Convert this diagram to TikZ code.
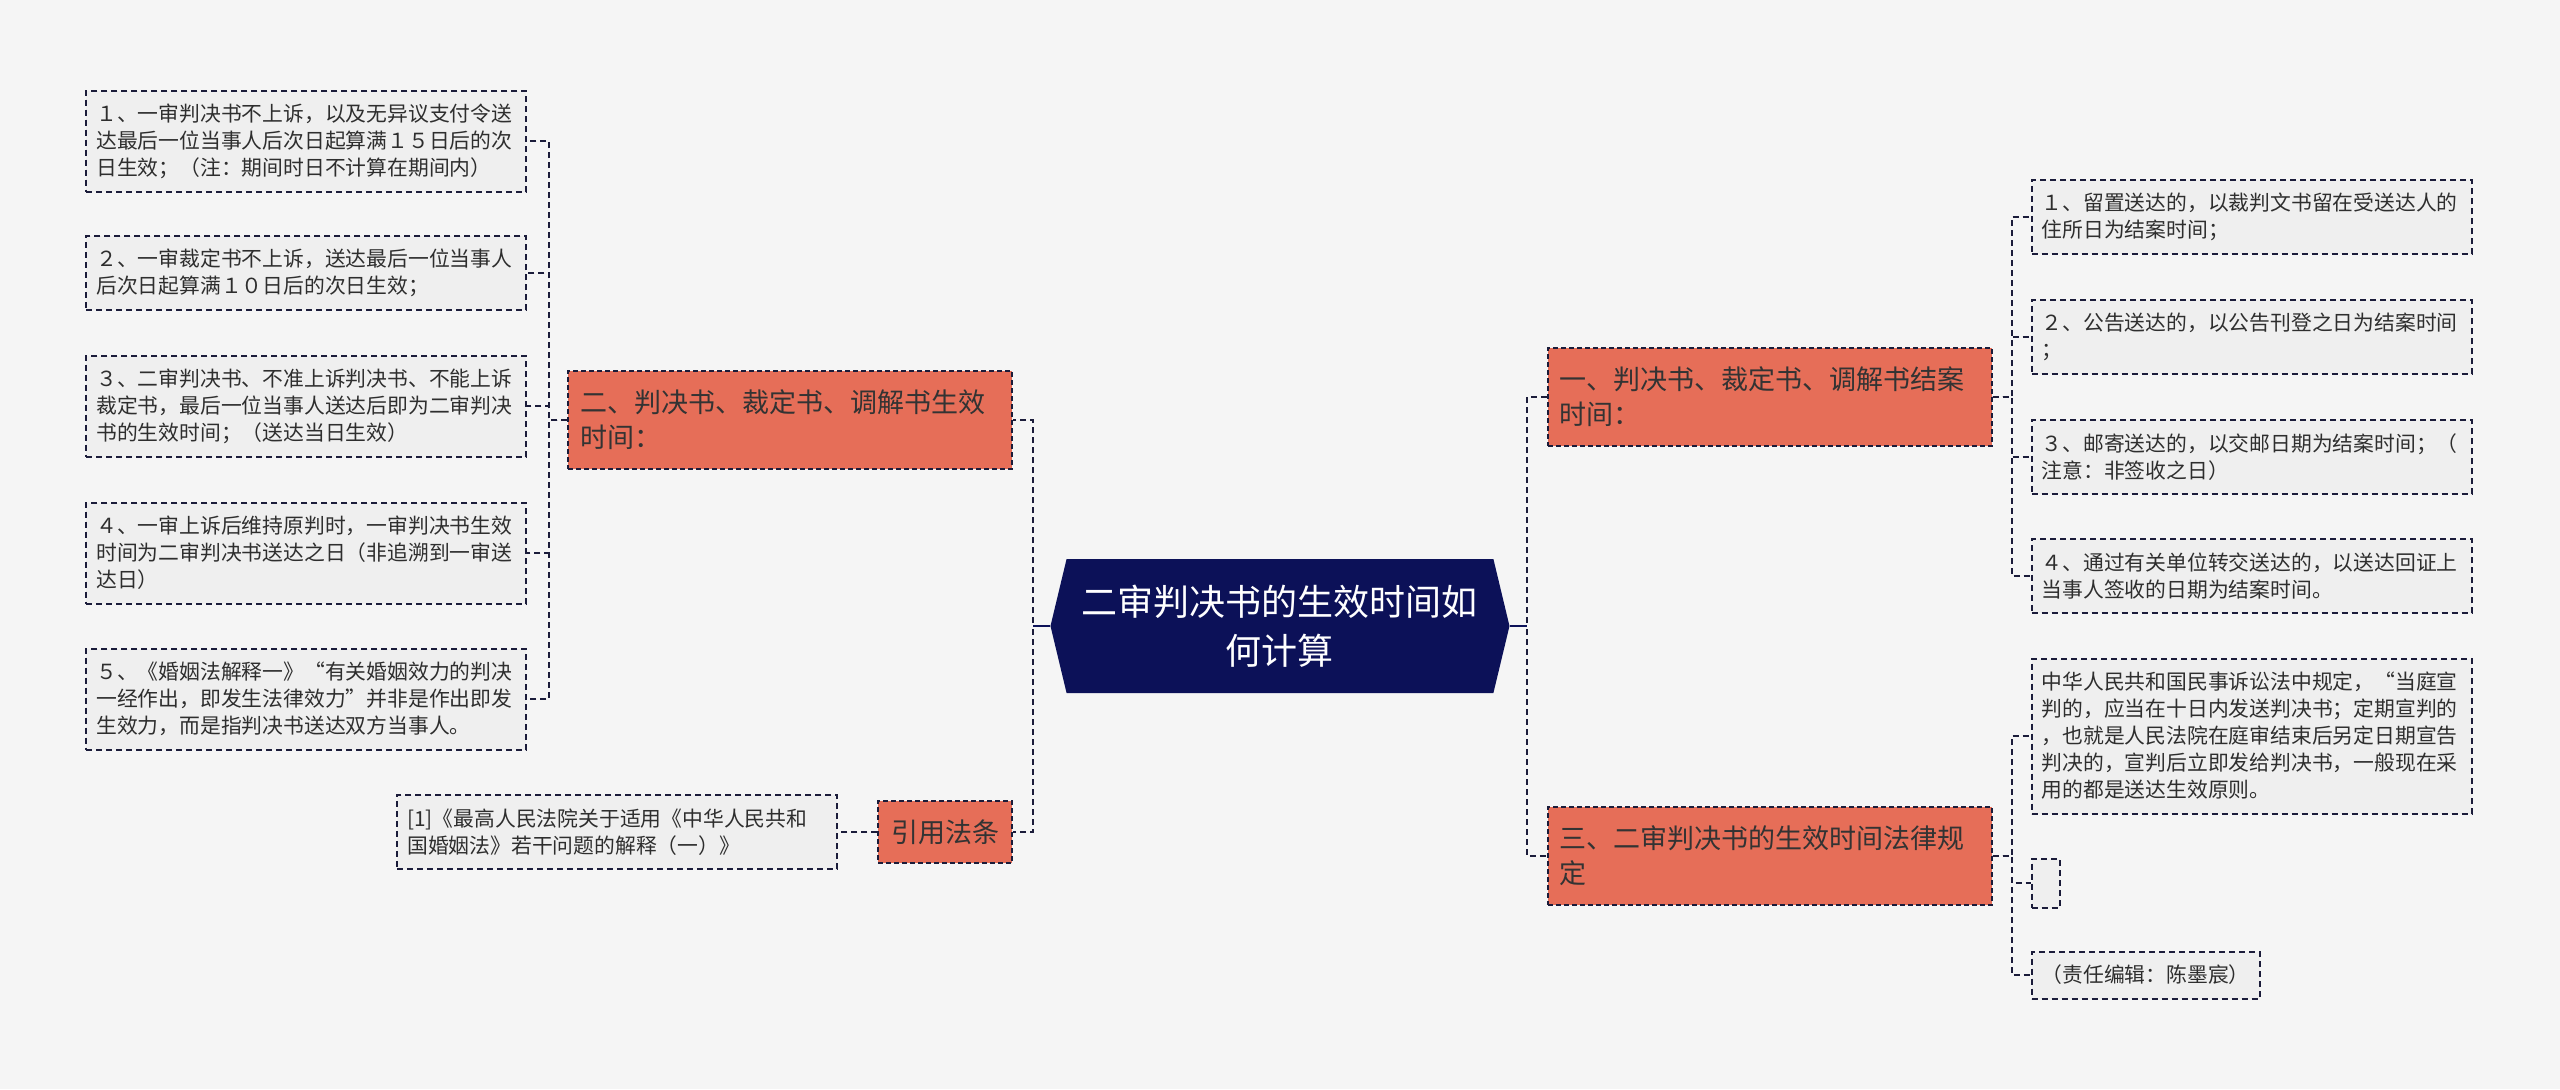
\documentclass[tikz,border=0pt]{standalone}
\usepackage{fontspec}
\setmainfont{Noto Sans CJK SC}
\usepackage{xcolor}
\usepackage{tikz}
\usetikzlibrary{shapes.symbols, positioning, calc, backgrounds}

\definecolor{pagebg}{HTML}{F5F5F5}
\definecolor{leafbg}{HTML}{EFEFEF}
\definecolor{secbg}{HTML}{E66E58}
\definecolor{rootbg}{HTML}{0C1158}
\definecolor{linecol}{HTML}{1B1C3A}
\definecolor{txtcol}{HTML}{2E2E2E}

\begin{document}
\begin{tikzpicture}[
    rootbox/.style={signal, signal to=west and east, signal pointer angle=153, fill=rootbg, text=white, minimum width=229.5pt, minimum height=67pt, align=center, inner sep=0pt, font=\fontsize{18pt}{24.5pt}\selectfont},
    secbox/.style={rectangle, draw=linecol, fill=secbg, dash pattern=on 2.5pt off 1.5pt, line width=0.9pt, text=black!80, minimum height=49pt, text width=210pt, inner xsep=6pt, inner ysep=0pt, align=left, font=\fontsize{13.5pt}{17.5pt}\selectfont},
    citebox/.style={rectangle, draw=linecol, fill=secbg, dash pattern=on 2.5pt off 1.5pt, line width=0.9pt, text=black!80, minimum height=31pt, minimum width=67pt, inner sep=0pt, font=\fontsize{13.5pt}{17.5pt}\selectfont},
    leaf/.style={rectangle, draw=linecol, fill=leafbg, dash pattern=on 3pt off 2pt, line width=1pt, text=txtcol, minimum height=#1, text width=210pt, inner xsep=5pt, inner ysep=0pt, align=left, font=\fontsize{10.4pt}{13.5pt}\selectfont},
    leaf/.default={37pt},
    link/.style={draw=linecol, line width=1pt, dash pattern=on 3pt off 2pt},
    stub/.style={draw=rootbg, line width=1.4pt},
]
\useasboundingbox (-640pt,313pt) rectangle (640pt,-231.5pt);

% ── Root ──
\node[rootbox] (root) at (0,0) {二审判决书的生效时间如\\何计算};

% ── Sections ──
\node[secbox, left=18.5pt of root, yshift=103pt] (sec_two) {二、判决书、裁定书、调解书生效\\时间：};
\node[citebox, left=18.5pt of root, yshift=-103pt] (cite_law) {引用法条};
\node[secbox, right=18.5pt of root, yshift=114.5pt] (sec_one) {一、判决书、裁定书、调解书结案\\时间：};
\node[secbox, right=18.5pt of root, yshift=-115pt] (sec_three) {三、二审判决书的生效时间法律规\\定};

% ── Left leaves ──
\node[leaf=50.5pt, left=20pt of sec_two, yshift=139.5pt] (l_one) {１、一审判决书不上诉，以及无异议支付令送\\达最后一位当事人后次日起算满１５日后的次\\日生效；（注：期间时日不计算在期间内）};
\node[leaf, left=20pt of sec_two, yshift=73.5pt] (l_two) {２、一审裁定书不上诉，送达最后一位当事人\\后次日起算满１０日后的次日生效；};
\node[leaf=50.5pt, left=20pt of sec_two, yshift=7pt] (l_three) {３、二审判决书、不准上诉判决书、不能上诉\\裁定书，最后一位当事人送达后即为二审判决\\书的生效时间；（送达当日生效）};
\node[leaf=50.5pt, left=20pt of sec_two, yshift=-66.5pt] (l_four) {４、一审上诉后维持原判时，一审判决书生效\\时间为二审判决书送达之日（非追溯到一审送\\达日）};
\node[leaf=50.5pt, left=20pt of sec_two, yshift=-139.5pt] (l_five) {５、《婚姻法解释一》“有关婚姻效力的判决\\一经作出，即发生法律效力”并非是作出即发\\生效力，而是指判决书送达双方当事人。};
\node[leaf, left=19.5pt of cite_law] (ref_law) {[1]《最高人民法院关于适用《中华人民共和\\国婚姻法》若干问题的解释（一）》};

% ── Right leaves ──
\node[leaf, right=19pt of sec_one, yshift=90pt] (r_one) {１、留置送达的，以裁判文书留在受送达人的\\住所日为结案时间；};
\node[leaf, right=19pt of sec_one, yshift=30pt] (r_two) {２、公告送达的，以公告刊登之日为结案时间\\；};
\node[leaf, right=19pt of sec_one, yshift=-30pt] (r_three) {３、邮寄送达的，以交邮日期为结案时间；（\\注意：非签收之日）};
\node[leaf, right=19pt of sec_one, yshift=-89.5pt] (r_four) {４、通过有关单位转交送达的，以送达回证上\\当事人签收的日期为结案时间。};
\node[leaf=77.5pt, right=19pt of sec_three, yshift=60pt] (r_five) {中华人民共和国民事诉讼法中规定，“当庭宣\\判的，应当在十日内发送判决书；定期宣判的\\，也就是人民法院在庭审结束后另定日期宣告\\判决的，宣判后立即发给判决书，一般现在采\\用的都是送达生效原则。};
\node[leaf=24.5pt, text width=4pt, right=19pt of sec_three, yshift=-13.5pt] (r_blank) {};
\node[leaf=23.5pt, text width=104pt, right=19pt of sec_three, yshift=-59.5pt] (r_editor) {（责任编辑：陈墨宸）};

% ── Links: root to sections ──
\draw[link] (root.west) -- ++(-8.5pt,0) |- (sec_two.east);
\draw[link] (root.west) -- ++(-8.5pt,0) |- (cite_law.east);
\draw[link] (root.east) -- ++(8.5pt,0) |- (sec_one.west);
\draw[link] (root.east) -- ++(8.5pt,0) |- (sec_three.west);
\draw[stub] (root.west) -- ++(-8.5pt,0);
\draw[stub] (root.east) -- ++(8.5pt,0);

% ── Links: left leaves ──
\draw[link] (sec_two.west) -- ++(-9pt,0) |- (l_one.east);
\draw[link] (sec_two.west) -- ++(-9pt,0) |- (l_two.east);
\draw[link] (sec_two.west) -- ++(-9pt,0) |- (l_three.east);
\draw[link] (sec_two.west) -- ++(-9pt,0) |- (l_four.east);
\draw[link] (sec_two.west) -- ++(-9pt,0) |- (l_five.east);
\draw[link] (cite_law.west) -- (ref_law.east);

% ── Links: right leaves ──
\draw[link] (sec_one.east) -- ++(9.5pt,0) |- (r_one.west);
\draw[link] (sec_one.east) -- ++(9.5pt,0) |- (r_two.west);
\draw[link] (sec_one.east) -- ++(9.5pt,0) |- (r_three.west);
\draw[link] (sec_one.east) -- ++(9.5pt,0) |- (r_four.west);
\draw[link] (sec_three.east) -- ++(9.5pt,0) |- (r_five.west);
\draw[link] (sec_three.east) -- ++(9.5pt,0) |- (r_blank.west);
\draw[link] (sec_three.east) -- ++(9.5pt,0) |- (r_editor.west);

% ── Page ──
\begin{scope}[on background layer]
\fill[pagebg] (-640pt,313pt) rectangle (640pt,-231.5pt);
\end{scope}

\end{tikzpicture}
\end{document}
